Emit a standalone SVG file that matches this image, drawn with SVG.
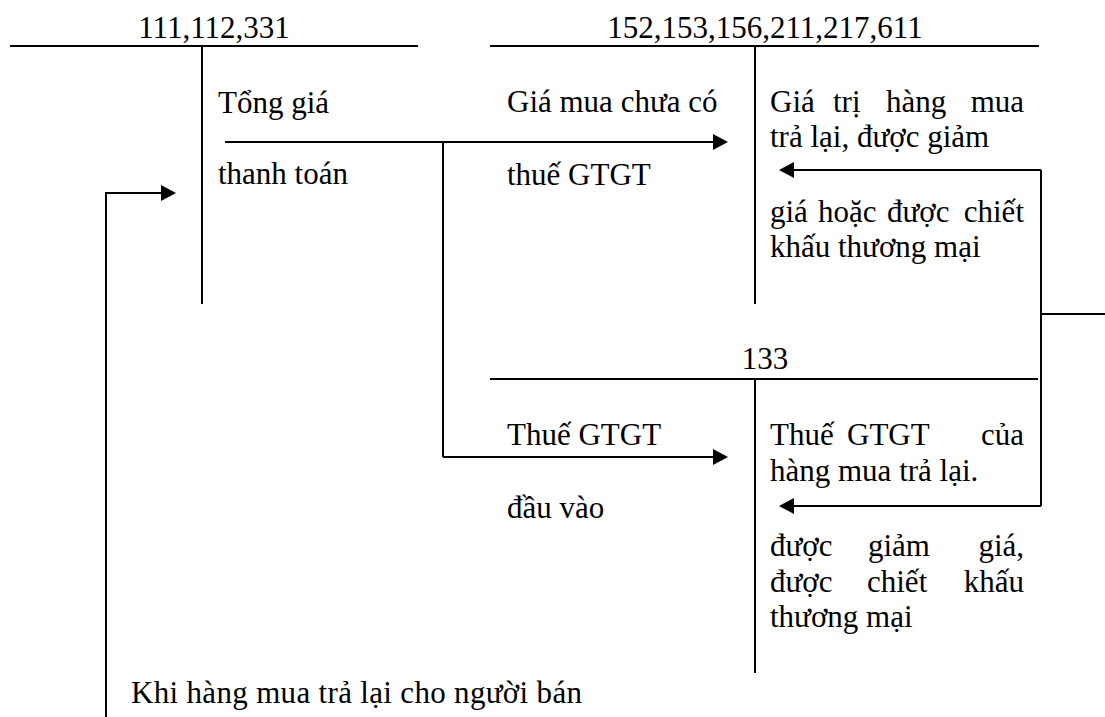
<svg xmlns="http://www.w3.org/2000/svg" width="1105" height="717" viewBox="0 0 1105 717">
  <style>
    text { font-family: 'Liberation Serif', serif; font-size: 31px; fill: #000; }
    .mid { text-anchor: middle; }
    .ln { stroke: #000; stroke-width: 2; fill: none; }
    .arr { stroke: #000; stroke-width: 2; fill: none; marker-end: url(#ah); }
  </style>
  <defs>
    <marker id="ah" markerUnits="userSpaceOnUse" markerWidth="16" markerHeight="16" refX="9" refY="8" orient="auto">
      <path d="M0,0 L15,8 L0,16 z" fill="#000"/>
    </marker>
  </defs>
  <rect width="1105" height="717" fill="#fff"/>

  <!-- T-account: 111,112,331 -->
  <g id="acc-111" font-family="Liberation Serif">
    <path class="ln" d="M10,46 H418 M202,46 V304"/>
    <text class="mid" x="214" y="38">111,112,331</text>
    <text x="218" y="113">Tổng giá</text>
    <text x="218" y="184">thanh toán</text>
  </g>

  <!-- T-account: inventory / fixed assets -->
  <g id="acc-152" font-family="Liberation Serif">
    <path class="ln" d="M490,46 H1039 M755,46 V304"/>
    <text class="mid" x="765" y="38">152,153,156,211,217,611</text>
    <text x="507" y="112">Giá mua chưa có</text>
    <text x="507" y="185">thuế GTGT</text>
    <text y="112"><tspan x="770">Giá</tspan><tspan x="833">trị</tspan><tspan x="886">hàng</tspan><tspan x="1024" text-anchor="end">mua</tspan></text>
    <text x="770" y="147">trả lại, được giảm</text>
    <text y="222"><tspan x="770">giá</tspan><tspan x="818">hoặc</tspan><tspan x="887">được</tspan><tspan x="1024" text-anchor="end">chiết</tspan></text>
    <text x="770" y="257">khấu thương mại</text>
  </g>

  <!-- T-account: 133 -->
  <g id="acc-133" font-family="Liberation Serif">
    <path class="ln" d="M490,379 H1038 M755,379 V673"/>
    <text class="mid" x="765" y="369">133</text>
    <text x="507" y="445">Thuế GTGT</text>
    <text x="507" y="518">đầu vào</text>
    <text y="445"><tspan x="770">Thuế</tspan><tspan x="847">GTGT</tspan><tspan x="1024" text-anchor="end">của</tspan></text>
    <text x="770" y="481">hàng mua trả lại.</text>
    <text y="556"><tspan x="770">được</tspan><tspan x="868">giảm</tspan><tspan x="1024" text-anchor="end">giá,</tspan></text>
    <text y="592"><tspan x="770">được</tspan><tspan x="867">chiết</tspan><tspan x="1024" text-anchor="end">khấu</tspan></text>
    <text x="770" y="627">thương mại</text>
  </g>

  <!-- return note -->
  <g id="note-return" font-family="Liberation Serif">
    <text x="131" y="703" textLength="451" lengthAdjust="spacing">Khi hàng mua trả lại cho người bán</text>
  </g>

  <g id="connectors">
    <!-- purchase: total payment split into price and input VAT -->
    <path class="arr" d="M225,142 H722"/>
    <path class="ln" d="M443,142 V457"/>
    <path class="arr" d="M443,457 H722"/>
    <!-- returns / discounts back to 111,112,331 -->
    <path class="ln" d="M1041,170 V506 M1041,314 H1105"/>
    <path class="arr" d="M1041,170 H785"/>
    <path class="arr" d="M1041,506 H785"/>
    <path class="arr" d="M106,717 V193 H170"/>
  </g>
</svg>
